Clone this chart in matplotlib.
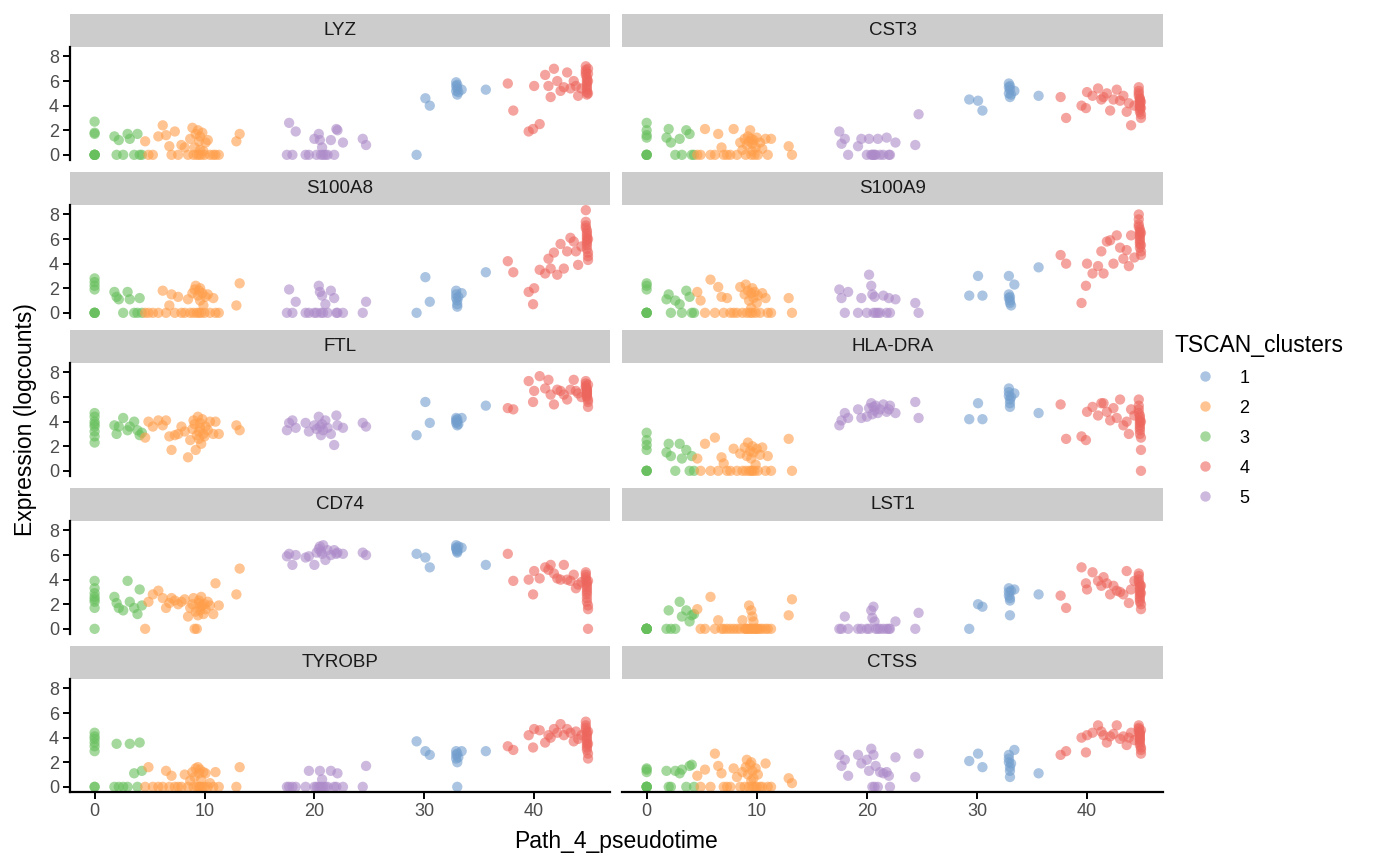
import matplotlib
matplotlib.use("Agg")
from matplotlib import pyplot as plt
from matplotlib.lines import Line2D

plt.rcParams["font.family"] = ["Liberation Sans", "DejaVu Sans"]

# cluster colours (tableau10medium as used by scater)
cluster_names = ["1", "2", "3", "4", "5"]
cluster_colors = ["#729ECE", "#FF9E4A", "#67BF5C", "#ED665D", "#AD8BC9"]

# pseudotime of the cells, grouped by cluster (3, 2, 5, 1, 4 along the path)
pt_c3 = [0, 0, 0, 0, 0, 0, 0, 0, 1.8, 2.0, 2.2, 2.6, 3.0, 3.2, 3.6, 3.9, 4.1, 4.3]
pt_c2 = [4.6, 4.9, 5.3, 5.8, 6.2, 6.5, 6.8, 7.0, 7.3, 7.6, 7.9, 8.2, 8.5, 8.7, 8.9,
         9.0, 9.1, 9.2, 9.3, 9.4, 9.5, 9.5, 9.6, 9.6, 9.7, 9.8, 9.9, 10.0, 10.1,
         10.3, 10.5, 10.8, 11.0, 11.3, 12.9, 13.2]
pt_c5 = [17.5, 17.7, 18.0, 18.3, 19.2, 19.5, 20.0, 20.2, 20.4, 20.5, 20.6, 20.7,
         20.8, 21.0, 21.2, 21.5, 21.8, 22.0, 22.1, 22.6, 24.4, 24.7]
pt_c1 = [29.3, 30.1, 30.5, 32.9, 32.9, 32.9, 33.0, 33.0, 33.0, 33.1, 33.4, 35.6]
pt_c4 = [37.6, 38.1, 39.5, 39.9, 40.0, 40.5, 41.0, 41.3, 41.5, 41.8, 42.1, 42.4,
         42.7, 43.0, 43.3, 43.6, 43.8, 44.0, 44.3,
         44.7, 44.7, 44.7, 44.7, 44.8, 44.8, 44.8, 44.8, 44.8, 44.8, 44.8, 44.8,
         44.9, 44.9, 44.9, 44.9]

pseudotime = pt_c3 + pt_c2 + pt_c5 + pt_c1 + pt_c4
clusters = (["3"] * len(pt_c3) + ["2"] * len(pt_c2) + ["5"] * len(pt_c5)
            + ["1"] * len(pt_c1) + ["4"] * len(pt_c4))

# expression (logcounts), one line per cluster in the same cell order
LYZ = ([0, 0, 0, 0, 1.7, 1.8, 2.7, 0, 1.5, 0, 1.2, 0, 1.7, 1.3, 0, 1.7, 0, 0]
       + [1.1, 0, 0, 1.5, 2.4, 1.6, 0.7, 0, 1.9, 0, 0.8, 0.6, 0, 1.3, 2.2, 0, 0.6, 1.7,
          0, 2.0, 0, 1.1, 0.4, 1.5, 0, 1.8, 0.3, 0, 1.0, 1.2, 0, 0, 0, 0, 1.1, 1.7]
       + [0, 2.6, 0, 1.9, 0, 0, 1.3, 0, 1.7, 1.2, 0, 0.6, 0, 0, 0, 1.2, 0, 2.1, 2.0, 1.0, 1.3, 0.8]
       + [0, 4.6, 4.0, 5.9, 5.6, 5.2, 5.4, 4.9, 5.7, 5.1, 5.3, 5.3]
       + [5.8, 3.6, 1.9, 2.1, 5.6, 2.5, 6.5, 5.6, 4.7, 7.0, 6.0, 5.2, 5.5, 6.7, 5.4, 6.0, 5.6, 4.8, 5.4,
          7.2, 6.9, 6.7, 6.5, 6.3, 6.1, 5.9, 5.7, 5.5, 5.3, 5.1, 4.9, 6.0, 6.6, 7.0, 5.0])
CST3 = ([0, 0, 0, 0, 1.4, 2.0, 2.6, 1.6, 1.4, 2.1, 1.0, 0, 1.3, 0, 2.0, 1.7, 0, 0]
        + [0, 0, 2.1, 0, 0, 1.7, 0.6, 0, 0, 0, 2.1, 0, 1.0, 0.4, 1.3, 0, 0.8, 1.5,
           1.1, 2.0, 0, 1.3, 0.3, 0.9, 1.2, 0, 0.6, 1.4, 0, 1.0, 0.5, 1.3, 0, 1.3, 0.7, 0]
        + [1.9, 0.9, 1.3, 0, 0.7, 1.3, 0, 1.3, 0, 0, 0, 0, 0, 1.3, 0, 0, 1.4, 0, 0, 1.0, 0.8, 3.3]
        + [4.5, 4.4, 3.6, 5.8, 5.5, 5.0, 4.7, 5.3, 5.6, 4.9, 5.2, 4.8]
        + [4.7, 3.0, 4.0, 3.8, 5.1, 4.8, 5.4, 4.5, 4.7, 5.0, 3.6, 4.5, 5.3, 4.4, 4.8, 3.5, 4.2, 2.4, 4.0,
           5.5, 5.2, 5.0, 4.8, 4.6, 4.5, 4.4, 4.2, 4.0, 3.9, 3.7, 3.5, 3.3, 3.0, 4.3, 3.8])
S100A8 = ([0, 0, 0, 2.8, 2.5, 2.2, 1.9, 0, 1.7, 1.3, 1.1, 0, 1.7, 1.1, 0, 0, 1.2, 0]
          + [0, 0, 0, 0, 1.8, 0, 0.6, 1.5, 0, 1.3, 0, 0, 1.1, 0, 1.6, 0, 1.9, 2.2,
             0, 1.4, 1.8, 0, 1.0, 2.0, 0, 1.6, 0.6, 0, 1.3, 1.5, 0, 1.2, 0, 0, 0.6, 2.4]
          + [0, 1.9, 0, 0.9, 0, 0, 0, 0, 2.2, 1.7, 0, 1.4, 0, 0.7, 0, 1.8, 1.2, 0, 0, 0, 0, 0.9]
          + [0, 2.9, 0.9, 1.8, 1.5, 1.2, 1.0, 0.7, 0.5, 1.3, 1.6, 3.3]
          + [4.2, 3.3, 1.7, 0.7, 2.0, 3.5, 3.2, 4.4, 3.6, 4.9, 3.1, 5.6, 3.6, 5.0, 6.1, 5.8, 5.0, 3.9, 5.4,
             8.35, 7.4, 7.1, 6.9, 6.7, 6.5, 6.3, 6.1, 5.9, 5.7, 5.5, 5.2, 4.9, 4.6, 4.3, 6.0])
S100A9 = ([0, 0, 0, 0, 2.4, 2.2, 1.9, 0, 1.1, 1.5, 0, 1.0, 0.7, 0, 1.8, 1.3, 0, 0]
          + [1.7, 1.0, 0, 2.7, 0, 2.1, 1.3, 0, 1.2, 0, 0, 0, 2.1, 0, 1.5, 2.3, 0, 1.8,
             1.0, 0, 1.6, 0.4, 2.0, 0, 1.2, 1.7, 0, 0.8, 1.4, 0, 1.6, 1.2, 0, 0, 1.2, 0]
          + [1.9, 1.2, 0, 1.7, 0, 1.2, 0, 3.1, 2.2, 1.5, 0, 1.3, 0, 0, 0, 1.4, 0, 1.2, 0, 1.1, 0.8, 0]
          + [1.4, 3.0, 1.4, 3.0, 1.5, 1.2, 1.0, 0.8, 1.3, 0.6, 2.3, 3.7]
          + [4.7, 4.0, 0.8, 2.2, 4.0, 3.2, 3.8, 5.0, 3.2, 5.8, 5.9, 4.0, 6.3, 5.3, 4.4, 5.1, 3.8, 6.3, 4.5,
             8.0, 7.6, 7.2, 7.0, 6.8, 6.6, 6.4, 6.2, 6.0, 5.8, 5.6, 5.3, 5.0, 4.7, 6.5, 5.5])
FTL = ([4.7, 4.4, 4.0, 3.6, 3.2, 2.3, 3.8, 2.8, 3.7, 3.0, 3.6, 4.3, 3.3, 3.6, 4.0, 3.3, 2.9, 3.1]
       + [2.7, 4.0, 3.6, 4.1, 3.7, 4.1, 2.8, 1.7, 2.9, 3.0, 3.6, 3.2, 1.1, 2.5, 3.4, 4.1, 3.8, 1.7,
          2.9, 4.4, 3.2, 2.6, 3.9, 3.5, 2.2, 4.2, 3.0, 2.8, 3.6, 3.3, 4.0, 3.0, 4.0, 3.0, 3.7, 3.3]
       + [3.3, 3.9, 4.1, 3.5, 3.9, 3.2, 3.7, 3.4, 4.4, 3.6, 2.9, 3.8, 3.3, 4.1, 3.5, 3.0, 2.1, 4.5, 3.7, 3.5, 3.9, 3.6]
       + [2.9, 5.6, 3.9, 4.3, 4.1, 3.9, 3.7, 4.0, 4.2, 3.8, 4.3, 5.3]
       + [5.1, 5.0, 7.3, 5.6, 6.5, 7.7, 6.7, 7.4, 6.2, 5.4, 6.6, 6.5, 6.2, 5.8, 6.6, 7.4, 6.5, 6.3, 6.0,
          7.3, 7.1, 6.9, 6.8, 6.7, 6.6, 6.5, 6.4, 6.3, 6.2, 6.1, 6.0, 5.8, 5.6, 5.2, 7.0])
HLA_DRA = ([0, 0, 0, 0, 1.7, 2.1, 2.5, 3.1, 1.5, 2.2, 1.2, 0, 2.2, 1.0, 1.7, 0, 1.2, 0]
           + [1.0, 0, 2.2, 0, 2.7, 0, 1.1, 0.6, 0, 0, 1.8, 0, 1.4, 0, 1.9, 0, 1.2, 2.3,
              0, 1.6, 0, 1.0, 2.0, 0, 1.5, 0, 0.5, 1.8, 0, 1.3, 1.9, 0, 1.2, 0, 2.6, 0]
           + [3.7, 4.1, 4.7, 4.3, 5.0, 4.3, 4.4, 5.1, 5.5, 4.6, 5.2, 4.9, 5.3, 4.7, 5.0, 5.4, 4.8, 5.0, 5.3, 4.7, 5.6, 4.3]
           + [4.2, 5.5, 4.2, 6.7, 6.4, 6.1, 5.8, 5.5, 5.2, 6.0, 6.3, 4.7]
           + [5.4, 2.6, 2.8, 2.5, 4.8, 5.2, 4.5, 5.5, 5.5, 4.8, 4.1, 5.1, 4.3, 5.8, 3.7, 4.0, 3.0, 5.0, 4.5,
              5.8, 5.3, 5.0, 4.7, 4.5, 4.3, 4.1, 3.9, 3.7, 3.5, 3.3, 3.0, 2.7, 1.7, 0, 4.0])
CD74 = ([3.9, 3.3, 2.9, 2.6, 2.4, 2.2, 1.7, 0, 2.6, 2.1, 1.7, 1.5, 3.9, 2.2, 1.7, 1.2, 3.2, 1.9]
        + [0, 2.2, 2.8, 3.1, 2.5, 1.7, 2.1, 2.5, 2.3, 2.0, 2.2, 2.4, 1.0, 1.7, 2.0, 2.5, 0, 1.4,
           0, 1.1, 2.1, 2.3, 1.8, 1.5, 2.6, 1.9, 1.2, 2.0, 1.6, 2.2, 1.9, 1.2, 3.7, 1.9, 2.8, 4.9]
        + [5.9, 6.1, 5.2, 6.0, 5.8, 5.9, 5.2, 6.2, 6.5, 6.7, 6.3, 6.1, 6.8, 5.6, 6.4, 6.0, 6.4, 6.1, 6.2, 6.1, 6.2, 6.0]
        + [6.1, 5.8, 5.0, 6.8, 6.6, 6.5, 6.3, 6.4, 6.2, 6.7, 6.6, 5.2]
        + [6.1, 3.9, 4.0, 2.8, 4.7, 4.1, 5.0, 4.8, 5.2, 4.5, 4.1, 4.0, 5.2, 4.0, 3.9, 4.4, 3.3, 3.6, 3.8,
           4.6, 4.4, 4.2, 4.0, 3.8, 3.6, 3.4, 3.2, 3.0, 2.8, 2.5, 2.2, 1.9, 1.6, 0, 3.9])
LST1 = ([0, 0, 0, 0, 0, 0, 0, 0, 0, 1.5, 0, 0, 2.2, 1.0, 1.5, 0.6, 1.1, 1.2]
        + [1.6, 0, 0, 2.6, 0, 0.7, 0, 0, 0, 0, 0, 0, 0, 0.7, 0, 0, 0, 0,
           1.9, 0, 1.5, 0, 0, 1.0, 0.6, 0, 0, 0, 0, 0, 0, 0, 0, 0, 1.1, 2.4]
        + [0, 0, 1.0, 0, 0, 0, 0, 0, 1.5, 0.9, 1.8, 0.6, 0, 0, 0, 0, 0, 0, 0, 0.6, 0, 1.3]
        + [0, 2.0, 1.8, 3.3, 3.0, 2.7, 2.3, 1.1, 2.5, 3.1, 3.2, 2.8]
        + [2.7, 1.7, 5.0, 3.7, 3.2, 4.6, 3.9, 3.5, 4.2, 3.7, 2.8, 3.5, 3.1, 3.0, 2.8, 4.7, 2.1, 3.2, 3.9,
           4.5, 4.3, 4.0, 3.8, 3.6, 3.4, 3.2, 3.0, 2.8, 2.6, 2.4, 2.2, 2.0, 1.6, 3.5, 2.9])
TYROBP = ([4.4, 4.1, 3.9, 3.6, 3.3, 2.9, 0, 0, 0, 3.5, 0, 0, 0, 3.5, 1.1, 0, 3.6, 1.3]
          + [0, 1.6, 0, 0, 0, 1.3, 0, 0.9, 0, 0, 0, 1.0, 0, 0.5, 1.2, 0, 0.8, 1.5,
             0, 1.6, 0, 1.1, 0, 1.4, 0.6, 0, 1.2, 0, 1.1, 0, 0.3, 0, 1.2, 0, 0, 1.6]
          + [0, 0, 0, 0, 0, 1.3, 0, 0, 0, 1.3, 0, 0.6, 0, 0, 0, 1.3, 0, 0, 1.1, 0, 0, 1.7]
          + [3.7, 2.9, 2.6, 2.9, 2.6, 2.3, 2.0, 0, 2.7, 2.4, 2.9, 2.9]
          + [3.3, 3.0, 4.2, 3.2, 4.7, 4.6, 3.6, 4.2, 4.0, 4.7, 4.4, 5.1, 4.2, 4.7, 4.4, 3.7, 4.5, 3.9, 4.2,
             5.3, 5.0, 4.8, 4.6, 4.4, 4.2, 4.0, 3.8, 3.6, 3.4, 3.2, 3.0, 2.7, 2.3, 4.5, 3.5])
CTSS = ([0, 0, 0, 0, 0, 1.2, 1.5, 1.4, 1.3, 0, 0, 1.3, 1.1, 1.4, 0, 1.7, 1.8, 0]
        + [0.9, 0, 1.4, 0, 2.7, 1.7, 1.1, 0, 0, 0, 1.5, 0.8, 0, 1.2, 0, 1.6, 2.2, 1.0,
           0, 1.8, 0.5, 2.0, 0, 1.3, 0.7, 0, 1.5, 0, 1.0, 0, 0, 1.9, 0, 0, 0.7, 0.3]
        + [2.6, 1.7, 2.2, 0.9, 2.6, 1.9, 2.2, 1.3, 3.1, 0, 2.6, 0, 1.7, 0, 1.2, 1.1, 1.2, 0.9, 0, 2.4, 0.8, 2.7]
        + [2.1, 2.7, 1.6, 2.6, 2.3, 2.0, 1.6, 1.3, 0.8, 1.9, 3.0, 1.1]
        + [2.6, 2.9, 4.0, 2.8, 4.2, 4.4, 5.0, 4.5, 4.2, 3.6, 4.1, 4.3, 5.0, 3.9, 4.1, 3.4, 4.0, 4.4, 3.8,
           5.0, 4.8, 4.7, 4.5, 4.4, 4.3, 4.2, 4.0, 3.9, 3.8, 3.6, 3.4, 3.2, 3.0, 2.7, 4.6])

gene_names = ["LYZ", "CST3", "S100A8", "S100A9", "FTL", "HLA-DRA",
              "CD74", "LST1", "TYROBP", "CTSS"]
gene_values = [LYZ, CST3, S100A8, S100A9, FTL, HLA_DRA, CD74, LST1, TYROBP, CTSS]

W, H = 1400, 866
fig = plt.figure(figsize=(W / 100, H / 100), dpi=100)

col_x = [(70, 610), (622, 1163)]
strip_h = 33
panel_h = 113
row_step = 158
first_top = 14

color_of = dict(zip(cluster_names, cluster_colors))
point_colors = [color_of[c] for c in clusters]
text_grey = "#4D4D4D"

for i, (gene, vals) in enumerate(zip(gene_names, gene_values)):
    row, col = divmod(i, 2)
    x0, x1 = col_x[col]
    top = first_top + row * row_step

    # strip
    sax = fig.add_axes([x0 / W, 1 - (top + strip_h) / H, (x1 - x0) / W, strip_h / H])
    sax.set_facecolor("#CCCCCC")
    sax.set_xticks([])
    sax.set_yticks([])
    for s in sax.spines.values():
        s.set_visible(False)
    sax.text(0.5, 0.5, gene, ha="center", va="center", fontsize=13.5,
             color="#1A1A1A", transform=sax.transAxes)

    # panel
    ax = fig.add_axes([x0 / W, 1 - (top + strip_h + panel_h) / H,
                       (x1 - x0) / W, panel_h / H])
    ax.scatter(pseudotime, vals, c=point_colors, s=55, alpha=0.6, linewidths=0)
    ax.set_xlim(-2.24, 46.9)
    ax.set_ylim(-0.42, 8.77)
    ax.set_xticks([0, 10, 20, 30, 40])
    ax.set_yticks([0, 2, 4, 6, 8])
    ax.spines["top"].set_visible(False)
    ax.spines["right"].set_visible(False)
    ax.spines["left"].set_linewidth(1.6)
    ax.spines["bottom"].set_linewidth(1.6)
    ax.tick_params(length=5, width=1.4, labelsize=13, labelcolor=text_grey,
                   pad=3)
    if col == 1:
        ax.spines["left"].set_visible(False)
        ax.tick_params(axis="y", left=False, labelleft=False)
    if row < 4:
        ax.spines["bottom"].set_visible(False)
        ax.tick_params(axis="x", bottom=False, labelbottom=False)

fig.text(0.44, 0.028, "Path_4_pseudotime", ha="center", va="center", fontsize=16.5)
fig.text(0.018, 0.515, "Expression (logcounts)", ha="center", va="center",
         rotation=90, fontsize=16.5)

handles = [Line2D([], [], ls="", marker="o", markersize=7.5, markeredgewidth=0,
                  markerfacecolor=c, alpha=0.6) for c in cluster_colors]
fig.legend(handles, cluster_names, title="TSCAN_clusters", loc="upper left",
           bbox_to_anchor=(1161 / W, 1 - 320 / H), frameon=False, fontsize=13,
           title_fontsize=16.5, alignment="left", labelspacing=0.72,
           borderpad=0.75, handlelength=3.4, handletextpad=0.2, borderaxespad=0)

fig.savefig("out.png", dpi=100)
